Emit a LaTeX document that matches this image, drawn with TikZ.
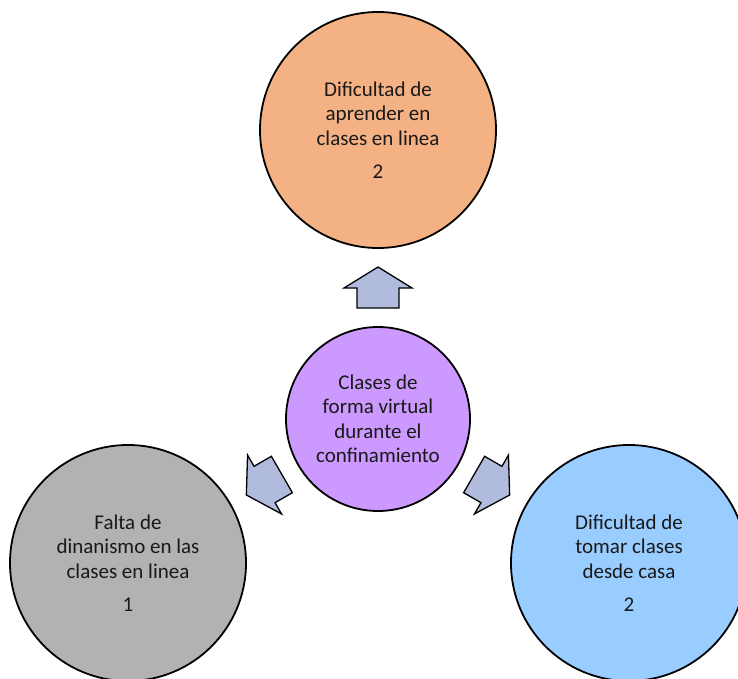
\documentclass[tikz,border=0pt]{standalone}
\usepackage{fontspec}
\setmainfont{Carlito}
\begin{document}
\begin{tikzpicture}[x=1pt,y=-1pt,
  bubble/.style={circle,draw=black,line width=1.8pt,minimum size=#1,inner sep=0pt,
    align=center,font=\fontsize{21}{24.5}\selectfont,text=black!90},
  blockarrow/.style={draw=black,line width=1.3pt,fill=arrowfill,line join=miter}]
\definecolor{orangefill}{HTML}{F4B183}
\definecolor{purplefill}{HTML}{CC99FF}
\definecolor{grayfill}{HTML}{B2B2B2}
\definecolor{bluefill}{HTML}{99CCFF}
\definecolor{arrowfill}{HTML}{B0BBDD}
\useasboundingbox (0,0) rectangle (738,679);

% central idea and the three outcomes
\node[bubble=184pt,fill=purplefill] (hub) at (378,419)
  {Clases de\\forma virtual\\durante el\\confinamiento};
\node[bubble=236pt,fill=orangefill] (top) at (378,130)
  {Dificultad de\\aprender en\\clases en linea\\[9pt]2};
\node[bubble=236pt,fill=grayfill] (left) at (128,563)
  {Falta de\\dinanismo en las\\clases en linea\\[9pt]1};
\node[bubble=236pt,fill=bluefill] (right) at (629,563)
  {Dificultad de\\tomar clases\\desde casa\\[9pt]2};

% block arrows radiating from the hub
\foreach \ang in {90,210,330}{
  \begin{scope}[shift={(hub.center)},rotate=\ang]
    \draw[blockarrow] (152,0) -- (131,34) -- (131,21) -- (111,21)
      -- (111,-21) -- (131,-21) -- (131,-34) -- cycle;
  \end{scope}
}
\end{tikzpicture}
\end{document}
